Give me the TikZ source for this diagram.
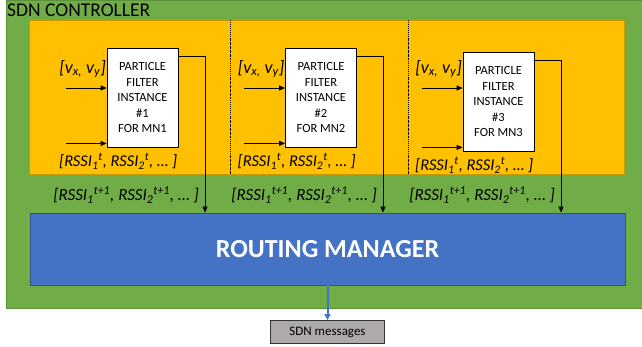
\documentclass[tikz,border=0pt]{standalone}
\usepackage{fontspec}
\setmainfont{Carlito}
\usetikzlibrary{arrows.meta}

\definecolor{ctrlgreen}{HTML}{70AD47}
\definecolor{ctrlgreenline}{HTML}{5B9138}
\definecolor{pfyellow}{HTML}{FFC000}
\definecolor{pfyellowline}{HTML}{C99700}
\definecolor{rmblue}{HTML}{4472C4}
\definecolor{rmblueline}{HTML}{2F528F}
\definecolor{msggray}{HTML}{AEAAAA}

\tikzset{
  pfbox/.style={draw=black, fill=white, line width=0.8pt, minimum width=71pt,
    minimum height=99pt, align=center, inner sep=0pt,
    font=\fontsize{12.5}{15.5}\selectfont},
  inlabel/.style={font=\fontsize{16.5}{19}\selectfont\itshape, inner sep=0pt},
  flow/.style={-{Triangle[length=6pt,width=5pt]}, line width=0.8pt},
}

\begin{document}
\begin{tikzpicture}[x=1pt,y=-1pt]
  \useasboundingbox (0,0) rectangle (642,347);

  % controller area and the filter stage
  \fill[ctrlgreen, draw=ctrlgreenline] (6,0) rectangle (646,308);
  \node[anchor=base west, inner sep=0pt, font=\fontsize{19.5}{22}\selectfont] (ctrl) at (7,17) {SDN CONTROLLER};
  \fill[pfyellow, draw=pfyellowline, line width=0.8pt] (29,20) rectangle (624,174);
  \foreach \xd in {230,408}
    \draw[line width=0.6pt, dash pattern=on 1.5pt off 1pt on 0.4pt off 1pt] (\xd,20) -- (\xd,174);

  % routing manager
  \node[fill=rmblue, draw=rmblueline, line width=0.8pt, minimum width=595pt, minimum height=72pt,
    text=white, font=\fontsize{26}{30}\selectfont\bfseries] (rm) at (327.5,249) {ROUTING MANAGER};

  % one particle filter per mobile node
  \foreach \i/\cx/\cy/\ox in {1/142.5/97.5/205, 2/321/97.5/383, 3/498.5/101.5/561} {
    \node[pfbox] (pf\i) at (\cx,\cy) {PARTICLE\\FILTER\\INSTANCE\\\#\i\\FOR MN\i};
    \coordinate (vin\i) at ([xshift=-41pt]pf\i.west |- 0,88);
    \coordinate (rin\i) at ([xshift=-41pt,yshift=4pt]pf\i.south west);
    \draw[flow] (vin\i) -- (vin\i -| pf\i.west);
    \draw[flow] (rin\i) -- (rin\i -| pf\i.west);
    \node[inlabel, font=\fontsize{18}{20}\selectfont\itshape] (vlab\i) at ([xshift=-24pt]pf\i.west |- 0,69)
      {[\textit{v}\textsubscript{\textit{x},} \textit{v}\textsubscript{\textit{y}}]};
    \node[inlabel, anchor=east] (rlab\i) at ([xshift=-1pt,yshift=-14pt]pf\i.south east)
      {[RSSI\textsubscript{1}\textsuperscript{t}, RSSI\textsubscript{2}\textsuperscript{t}, \dots\ ]};
    \draw[flow] ([yshift=-9pt]pf\i.north east) -| (\ox,0 |- rm.north);
    \node[inlabel, anchor=east, font=\fontsize{17}{19}\selectfont\itshape] (olab\i) at (\ox-6,195)
      {[RSSI\textsubscript{1}\textsuperscript{t+1}, RSSI\textsubscript{2}\textsuperscript{t+1}, \dots\ ]};
  }

  % output of the controller
  \node[fill=msggray, draw=black!80, line width=0.8pt, minimum width=114pt, minimum height=23pt,
    inner sep=0pt, font=\fontsize{13}{15}\selectfont] (msg) at (327.5,332) {SDN messages};
  \draw[-{Triangle[length=6pt,width=6pt]}, rmblue, line width=2pt] (rm.south -| msg.north) -- (msg.north);
\end{tikzpicture}
\end{document}
